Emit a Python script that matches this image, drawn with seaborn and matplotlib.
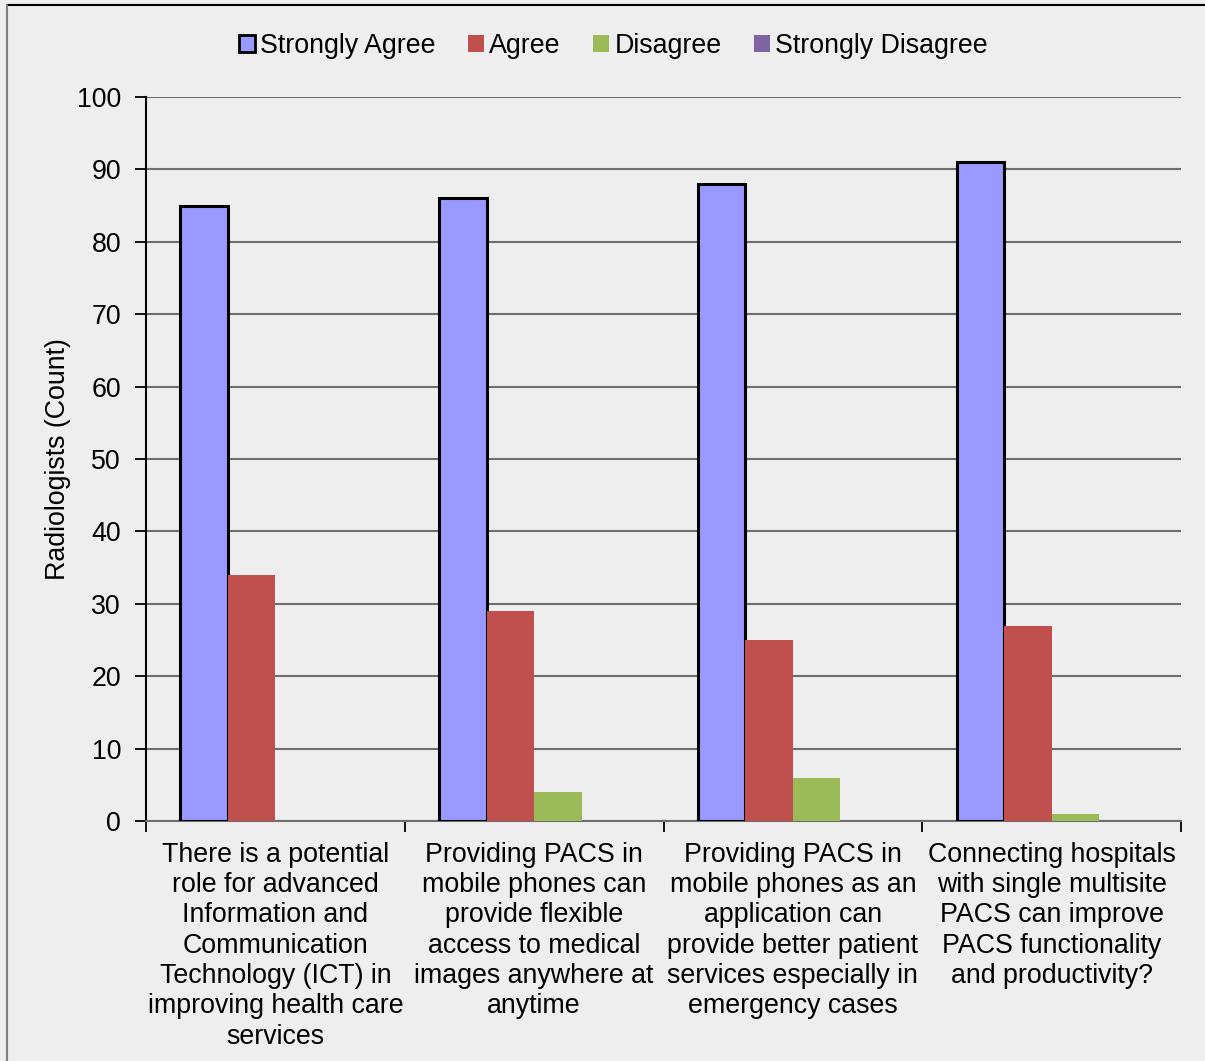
import numpy as np
import pandas as pd
import matplotlib
matplotlib.use("Agg")
import matplotlib.pyplot as plt
from matplotlib.lines import Line2D
from matplotlib.patches import Patch
import seaborn as sns

statements = [
    "There is a potential\nrole for advanced\nInformation and\nCommunication\nTechnology (ICT) in\nimproving health care\nservices",
    "Providing PACS in\nmobile phones can\nprovide flexible\naccess to medical\nimages anywhere at\nanytime",
    "Providing PACS in\nmobile phones as an\napplication can\nprovide better patient\nservices especially in\nemergency cases",
    "Connecting hospitals\nwith single multisite\nPACS can improve\nPACS functionality\nand productivity?",
]
responses = ["Strongly Agree", "Agree", "Disagree", "Strongly Disagree"]
strongly_agree = [85, 86, 88, 91]
agree = [34, 29, 25, 27]
disagree = [0, 4, 6, 1]
strongly_disagree = [0, 0, 0, 0]
y_ticks = [0, 10, 20, 30, 40, 50, 60, 70, 80, 90, 100]

colors = ["#9999FF", "#C0504D", "#9BBB59", "#8064A2"]
bg = "#EEEEEE"

rows = []
for resp, vals in zip(responses, [strongly_agree, agree, disagree, strongly_disagree]):
    for st, v in zip(statements, vals):
        rows.append({"Statement": st, "Response": resp, "Count": v})
df = pd.DataFrame(rows)

sns.set_theme(style="white")
plt.rcParams["font.family"] = ["Liberation Sans", "DejaVu Sans"]
plt.rcParams["font.size"] = 19
plt.rcParams["text.color"] = "black"
plt.rcParams["axes.labelcolor"] = "black"
plt.rcParams["xtick.color"] = "black"
plt.rcParams["ytick.color"] = "black"

FS = 19.3

fig = plt.figure(figsize=(12.05, 10.61), dpi=100, facecolor=bg)
ax = fig.add_axes([0.1212, 0.2262, 0.8589, 0.6824], facecolor=bg)

sns.barplot(data=df, x="Statement", y="Count", hue="Response",
            order=statements, hue_order=responses, palette=colors,
            width=0.734, gap=0, saturation=1, linewidth=0, ax=ax,
            legend=False, zorder=3)

# Outline the first series
for bar in ax.containers[0]:
    bar.set_edgecolor("black")
    bar.set_linewidth(2.2)

ax.set_ylim(0, 100)
ax.set_xlim(-0.5, len(statements) - 0.5)
ax.set_yticks(y_ticks)
ax.set_yticklabels([str(t) for t in y_ticks], fontsize=FS, color="black")
ax.yaxis.grid(True, color="#6E6E6E", linewidth=1.5, zorder=0)
ax.set_axisbelow(True)

# Category ticks between groups
ax.set_xticks(np.arange(-0.5, len(statements), 1.0), minor=False)
ax.set_xticklabels([""] * (len(statements) + 1))
ax.set_xticks(np.arange(len(statements)), minor=True)
ax.set_xticklabels(statements, minor=True, fontsize=FS, linespacing=1.215,
                   color="black")
ax.tick_params(axis="x", which="major", direction="out", length=8, width=1.3,
               color="black", bottom=True)
ax.tick_params(axis="x", which="minor", length=0, pad=15, bottom=True)
ax.tick_params(axis="y", direction="out", length=8, width=1.3, color="black",
               left=True, pad=10)

for s in ["top", "right"]:
    ax.spines[s].set_visible(False)
ax.spines["left"].set_color("black")
ax.spines["left"].set_linewidth(1.5)
ax.spines["bottom"].set_color("#6E6E6E")
ax.spines["bottom"].set_linewidth(1.5)

ax.set_xlabel("")
ax.set_ylabel("Radiologists (Count)", fontsize=FS, labelpad=4, color="black")

handles = [Patch(facecolor=colors[0], edgecolor="black", linewidth=2),
           Patch(facecolor=colors[1], edgecolor="none"),
           Patch(facecolor=colors[2], edgecolor="none"),
           Patch(facecolor=colors[3], edgecolor="none")]
fig.legend(handles, responses, loc="center", bbox_to_anchor=(0.509, 0.957),
           ncol=4, frameon=False, fontsize=FS, handlelength=0.6,
           handleheight=0.6, handletextpad=0.2, columnspacing=1.2)

# Frame lines along the top and left edges
fig.add_artist(Line2D([0.0058, 1.0], [0.9953, 0.9953], transform=fig.transFigure,
                      color="black", linewidth=1.5))
fig.add_artist(Line2D([0.0058, 0.0058], [0.0, 0.9953], transform=fig.transFigure,
                      color="#808080", linewidth=1.5))

fig.savefig("out.png", dpi=100, facecolor=bg)
